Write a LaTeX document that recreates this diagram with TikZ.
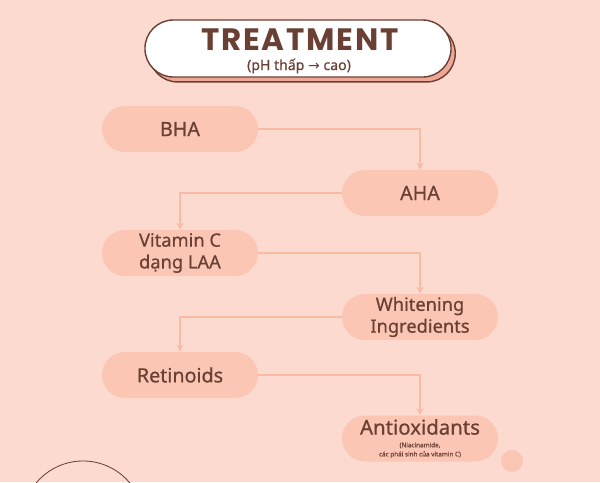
\documentclass[tikz,border=0pt]{standalone}
\usepackage{fontspec}
\setmainfont{Noto Sans}[UprightFeatures={FakeBold=0.6}]
\newfontfamily\titlefont{Poppins}[LetterSpace=6]
\newfontfamily\arrowfont{DejaVu Sans}
\usetikzlibrary{arrows.meta,shadows}
\definecolor{bgpink}{HTML}{FDDAD0}
\definecolor{boxpink}{HTML}{FCC6B4}
\definecolor{linepink}{HTML}{F8BBA6}
\definecolor{textbrown}{HTML}{6B4034}
\definecolor{shadowpink}{HTML}{EFA898}
\tikzset{
	titlebox/.style={draw=textbrown, line width=1pt, fill=white, rounded corners=0.71cm, minimum width=7.65cm, minimum height=1.425cm, copy shadow={shadow xshift=3pt, shadow yshift=-3.5pt, fill=shadowpink, draw=textbrown, line width=1pt}},
	stepbox/.style={fill=boxpink, rounded corners=0.575cm, minimum width=3.9cm, minimum height=1.15cm, inner sep=0pt, text=textbrown, align=center, font=\fontsize{13}{15.5}\selectfont},
	flow/.style={linepink, line width=0.9pt, -{Stealth[length=5pt, width=5pt, open]}},
}

\begin{document}
\begin{tikzpicture}[x=0.025cm, y=-0.025cm]
			%%%%% START %%%%%
			
			\fill[bgpink] (0, 0) rectangle (600, 482);
			\useasboundingbox (0, 0) rectangle (600, 482);
			\clip (0, 0) rectangle (600, 482);
			
			% title
			\node[titlebox] (title) at (298, 48.5) {};
			\node[anchor=base, inner sep=0pt, text depth=0pt, text=textbrown, font=\titlefont\bfseries\fontsize{22}{24}\selectfont] (head) at (300, 50) {TREATMENT};
			\node[anchor=base, inner sep=0pt, text height=7.5pt, text=textbrown, font=\fontsize{10}{12}\selectfont] (sub) at (299, 70) {(pH thấp {\arrowfont→} cao)};
			
			% steps
			\node[stepbox, font=\fontsize{14}{16}\selectfont] (bha) at (180, 129) {BHA};
			\node[stepbox, font=\fontsize{14}{16}\selectfont] (aha) at (420, 193) {AHA};
			\node[stepbox] (vitc) at (180, 253) {Vitamin C\\dạng LAA};
			\node[stepbox] (white) at (420, 317) {Whitening\\Ingredients};
			\node[stepbox, font=\fontsize{14}{16}\selectfont] (retin) at (180, 375) {Retinoids};
			\node[stepbox, font=\fontsize{14.5}{9}\selectfont] (anti) at (420, 438.5) {Antioxidants\\{\fontsize{4.5}{6}\selectfont(Niacinamide,}\\[-2.5pt]{\fontsize{4.5}{6}\selectfont các phái sinh của vitamin C)}};
			
			\draw[flow] (bha.east) -| (aha.north);
			\draw[flow] (aha.west) -| (vitc.north);
			\draw[flow] (vitc.east) -| (white.north);
			\draw[flow] (white.west) -| (retin.north);
			\draw[flow] (retin.east) -| (anti.north);
			
			% decorations
			\fill[boxpink] (512, 461) circle (11);
			\draw[textbrown, line width=0.6pt] (83, 522) circle (61);
			
			%%%%% END %%%%%
		\end{tikzpicture}
\end{document}
